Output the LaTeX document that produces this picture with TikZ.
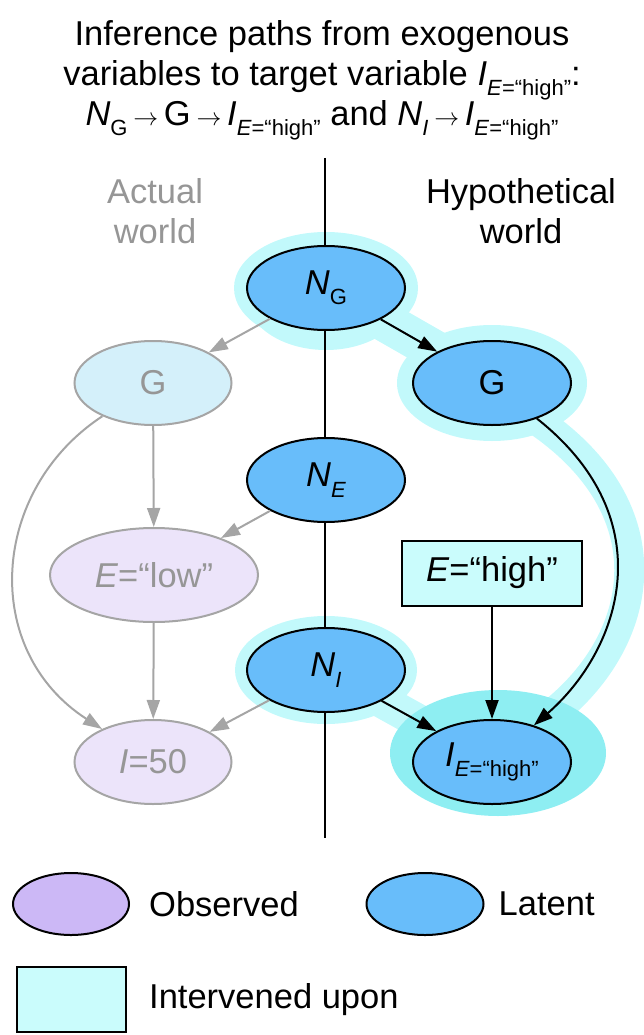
\documentclass[tikz,border=0pt]{standalone}
\usepackage{fontspec}
\setmainfont{Liberation Sans}
\usetikzlibrary{shapes.geometric, positioning, arrows.meta, backgrounds}

\definecolor{latentblue}{RGB}{104,189,250}
\definecolor{observedpurple}{RGB}{204,184,246}
\definecolor{fadeobs}{RGB}{236,228,250}
\definecolor{fadeint}{RGB}{212,240,250}
\definecolor{halo}{RGB}{194,249,251}
\definecolor{halodark}{RGB}{142,238,242}
\definecolor{intbox}{RGB}{202,252,252}
\definecolor{fadeline}{RGB}{165,165,165}
\definecolor{fadetext}{RGB}{150,150,150}

\newcommand{\bigfont}{\fontsize{34.5}{40}\selectfont}
\newcommand{\subfont}{\fontsize{22}{22}\selectfont}
\newcommand{\sub}[1]{\raisebox{-0.3em}{\subfont #1}}
\newcommand{\arr}{\,$\rightarrow$\,}

\tikzset{
  latent/.style={ellipse, draw=black, line width=2pt, fill=latentblue,
    minimum width=158pt, minimum height=84pt, inner sep=0pt},
  faded/.style={ellipse, draw=fadeline, line width=2pt, text=fadetext,
    minimum width=157pt, minimum height=84pt, inner sep=0pt},
  observed/.style={ellipse, draw=black, line width=2pt, fill=observedpurple,
    minimum width=116pt, minimum height=62pt, inner sep=0pt},
  intervened/.style={rectangle, draw=black, line width=2pt, fill=intbox,
    minimum width=180pt, minimum height=65pt, inner sep=0pt},
  legtext/.style={inner sep=0pt, anchor=west}
}

\begin{document}
\begin{tikzpicture}[x=1pt, y=-1pt, font=\bigfont,
    >={Triangle[length=19pt, width=13pt]}]
\useasboundingbox (0,0) rectangle (643,1035);

% title
\node[align=center] (title) at (322,80) {Inference paths from exogenous\\
  variables to target variable \textit{I}\sub{\textit{E}=“high”}:\\
  \textit{N}\sub{G}\arr G\arr\textit{I}\sub{\textit{E}=“high”} and \textit{N}\sub{\textit{I}}\arr\textit{I}\sub{\textit{E}=“high”}};

% the two worlds
\node[align=center, text=fadetext] (actual) at (155,211) {Actual\\world};
\node[align=center] (hypo) at (521,211) {Hypothetical\\world};

% hypothetical world
\node[latent] (NG) at (326,288) {\textit{N}\sub{G}};
\node[latent] (NE) at (326,480) {\textit{N}\sub{\textit{E}}};
\node[latent] (NI) at (326,670) {\textit{N}\sub{\textit{I}}};
\node[latent] (Gh) at (492,383) {G};
\node[intervened] (Eh) at (492,573) {\textit{E}=“high”};
\node[latent] (Ie) at (492,762) {\textit{I}\sub{\textit{E}=“high”}};

% actual world
\node[faded, fill=fadeint] (Ga) at (153,383) {G};
\node[faded, fill=fadeobs, minimum width=208pt, minimum height=94pt] (Ea) at (154,575) {\textit{E}=“low”};
\node[faded, fill=fadeobs] (Ia) at (153,762) {\textit{I}=50};

\coordinate (top) at (325,158);
\coordinate (bottom) at (325,838);

% intervened region and divider
\begin{scope}[on background layer]
  \fill[halo] (NG.center) ellipse (92 and 56);
  \fill[halo] ([shift={(0,8)}]NG.center) ellipse (80 and 54);
  \fill[halo] (Gh.center) ellipse (95 and 58);
  \fill[halo] (NI.center) ellipse (91 and 54);
  \draw[halo, line width=40pt] (NG.center) -- (Gh.center);
  \draw[halo, line width=34pt] (NI.center) -- (Ie.center);
  \draw[halo, line width=30pt] (Gh.-40) .. controls (678,515) and (642,655) .. (Ie.40);
  \fill[halodark] ([shift={(6,-9)}]Ie.center) ellipse (108 and 63);
  \draw[line width=2pt] (top) -- (bottom);
\end{scope}

% arrows
\draw[->, fadeline, line width=2pt]
  (NG) edge (Ga)
  (Ga) edge (Ea)
  (NE) edge (Ea)
  (Ea) edge (Ia)
  (NI) edge (Ia);
\draw[->, fadeline, line width=2pt] (Ga) .. controls (-10,490) and (-20,650) .. (Ia);
\draw[->, line width=2pt]
  (NG) edge (Gh)
  (NI) edge (Ie)
  (Eh) edge (Ie);
\draw[->, line width=2pt] (Gh) .. controls (665,520) and (620,650) .. (Ie);

% legend
\node[observed] (legobs) at (71,904) {};
\node[legtext, right=19pt of legobs] (legobstext) {Observed};
\node[latent, minimum width=117pt, minimum height=62pt] (leglat) at (425,904) {};
\node[legtext, right=14pt of leglat] (leglattext) {Latent};
\node[intervened, minimum width=109pt] (legint) at (71.5,999.5) {};
\node[legtext, right=22pt of legint] (leginttext) {Intervened upon};
\end{tikzpicture}
\end{document}
